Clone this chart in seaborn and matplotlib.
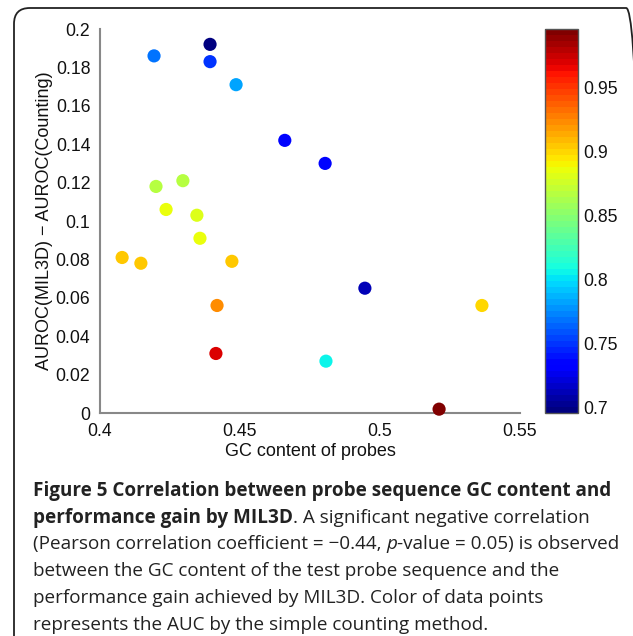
import numpy as np
import pandas as pd
import matplotlib
matplotlib.use("Agg")
import matplotlib.pyplot as plt
import seaborn as sns
from matplotlib.patches import FancyBboxPatch
from matplotlib.colors import Normalize
from matplotlib.cm import ScalarMappable

# ---- data ----
gc_content = [0.4193, 0.4393, 0.4393, 0.4486, 0.4660, 0.4804, 0.4200, 0.4296,
              0.4236, 0.4346, 0.4357, 0.4079, 0.4146, 0.4471, 0.4418, 0.4414,
              0.4946, 0.5364, 0.4807, 0.5211]
auroc_gain = [0.186, 0.192, 0.183, 0.171, 0.142, 0.130, 0.118, 0.121,
              0.106, 0.103, 0.091, 0.081, 0.078, 0.079, 0.056, 0.031,
              0.065, 0.056, 0.027, 0.002]
auc_counting = [0.770, 0.700, 0.752, 0.785, 0.734, 0.734, 0.868, 0.868,
                0.885, 0.881, 0.885, 0.905, 0.905, 0.905, 0.925, 0.970,
                0.714, 0.902, 0.808, 0.994]
x_ticks = [0.4, 0.45, 0.5, 0.55]
x_ticklabels = ["0.4", "0.45", "0.5", "0.55"]
y_ticks = [0, 0.02, 0.04, 0.06, 0.08, 0.1, 0.12, 0.14, 0.16, 0.18, 0.2]
y_ticklabels = ["0", "0.02", "0.04", "0.06", "0.08", "0.1", "0.12", "0.14",
                "0.16", "0.18", "0.2"]
cb_ticks = [0.7, 0.75, 0.8, 0.85, 0.9, 0.95]
cb_ticklabels = ["0.7", "0.75", "0.8", "0.85", "0.9", "0.95"]
cb_range = (0.696, 0.996)
x_label = "GC content of probes"
y_label = "AUROC(MIL3D) \u2212 AUROC(Counting)"

df = pd.DataFrame({"gc": gc_content, "gain": auroc_gain, "auc": auc_counting})

sns.set_style("white")
plt.rcParams["font.family"] = ["Liberation Sans", "DejaVu Sans"]

W, H = 633, 636
fig = plt.figure(figsize=(W / 100, H / 100), dpi=100)

def fx(px):
    return px / W

def fy(py):
    return 1 - py / H

# outer rounded frame
frame = FancyBboxPatch((fx(14), fy(660)), fx(642 - 14), (660 - 8) / H,
                       boxstyle="round,pad=0,rounding_size=0.025",
                       transform=fig.transFigure, fill=False,
                       edgecolor="#222222", linewidth=1.3, clip_on=False)
fig.patches.append(frame)

ax = fig.add_axes([fx(100), fy(413), fx(520 - 100), (413 - 29) / H])
cmap = plt.get_cmap("jet", 64)
norm = Normalize(*cb_range)

sns.scatterplot(data=df, x="gc", y="gain", hue="auc", palette=cmap,
                hue_norm=norm, s=90, linewidth=0, legend=False, ax=ax,
                clip_on=False, zorder=3)

tick_fs = 12.7
ax.set_xlim(0.4, 0.55)
ax.set_ylim(0, 0.2)
ax.set_xticks(x_ticks)
ax.set_xticklabels(x_ticklabels)
ax.set_yticks(y_ticks)
ax.set_yticklabels(y_ticklabels)
ax.tick_params(direction="in", length=4, width=1, color="#555555",
               labelsize=tick_fs, labelcolor="#111111", pad=7)
for side in ["top", "right"]:
    ax.spines[side].set_visible(False)
for side in ["left", "bottom"]:
    ax.spines[side].set_color("#888888")
    ax.spines[side].set_linewidth(1.5)
ax.set_xlabel(x_label, fontsize=13, color="#111111", labelpad=2)
ax.set_ylabel(y_label, fontsize=13, color="#111111", labelpad=2)

# colorbar
cax = fig.add_axes([fx(545), fy(413), fx(578 - 545), (413 - 29) / H])
cb = fig.colorbar(ScalarMappable(norm=norm, cmap=cmap), cax=cax)
cb.set_ticks(cb_ticks)
cb.set_ticklabels(cb_ticklabels)
cb.outline.set_edgecolor("#555555")
cb.outline.set_linewidth(1.0)
cax.tick_params(direction="in", length=3, width=1, color="#444444",
                labelsize=tick_fs, labelcolor="#111111", pad=4,
                left=True, right=True)

# caption with mixed styles
cap_font = ["Open Sans", "DejaVu Sans"]
cap_size = 13.6
renderer = fig.canvas.get_renderer()

def draw_runs(x_px, y_px, runs):
    x = x_px
    for text, weight, style in runs:
        t = fig.text(fx(x), fy(y_px), text, family=cap_font, fontsize=cap_size,
                     fontweight=weight, fontstyle=style, color="#222222",
                     va="baseline", ha="left")
        bb = t.get_window_extent(renderer)
        x = bb.x1

lines = [
    [("Figure 5 Correlation between probe sequence GC content and", "bold", "normal")],
    [("performance gain by MIL3D", "bold", "normal"),
     (". A significant negative correlation", "normal", "normal")],
    [("(Pearson correlation coefficient = \u22120.44, ", "normal", "normal"),
     ("p", "normal", "italic"),
     ("-value = 0.05) is observed", "normal", "normal")],
    [("between the GC content of the test probe sequence and the", "normal", "normal")],
    [("performance gain achieved by MIL3D. Color of data points", "normal", "normal")],
    [("represents the AUC by the simple counting method.", "normal", "normal")],
]
base_y = 496
for i, runs in enumerate(lines):
    draw_runs(33, base_y + i * 26.7, runs)

fig.savefig("out.png", dpi=100)
